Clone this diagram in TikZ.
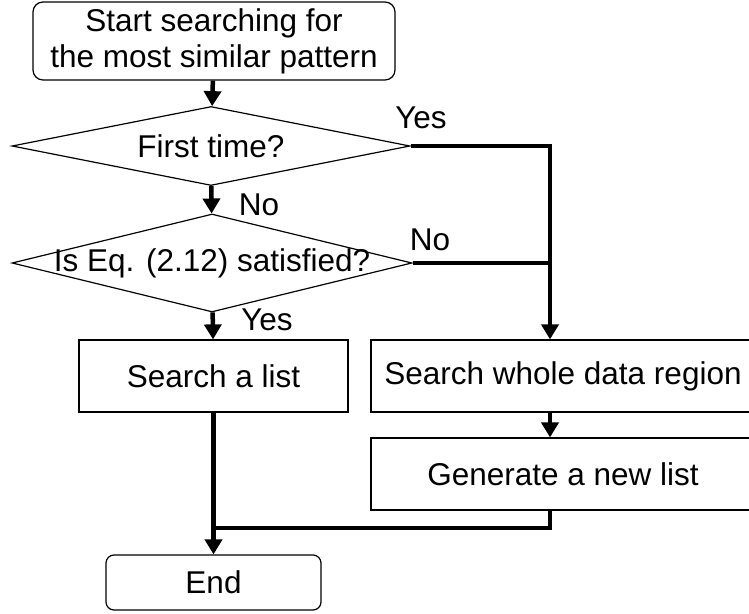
\documentclass[tikz,border=0pt]{standalone}
\usepackage{fontspec}
\setmainfont{Liberation Sans}
\usetikzlibrary{arrows.meta,positioning,shapes.geometric}

\begin{document}
\begin{tikzpicture}[x=1pt,y=-1pt,>={Triangle[length=15pt,width=17pt]},
    font=\fontsize{31.5}{36}\selectfont]
    \useasboundingbox (0,0) rectangle (749,613);
    \tikzset{terminal/.style={draw,line width=1.2pt,rounded corners=10pt,align=center,inner sep=0pt}}
    \tikzset{decision/.style={diamond,draw,line width=1.2pt,inner sep=0pt}}
    \tikzset{process/.style={draw,line width=1.2pt,inner sep=0pt}}
    \tikzset{flow/.style={line width=4.5pt}}

    \node[terminal,minimum width=362pt,minimum height=78pt] (start) at (214,41)  {Start searching for\\the most similar pattern};
    \node[decision,minimum width=398pt,minimum height=79pt] (first) at (211,146) {\makebox[0pt]{\raisebox{-3pt}{First time?}}};
    \node[decision,minimum width=400pt,minimum height=98pt] (eq)    at (212,263) {\makebox[0pt]{Is Eq. (2.12) satisfied?}};
    \node[process,minimum width=269pt,minimum height=72pt]  (list)  at (213.5,376) {Search a list};
    \node[process,minimum width=384pt,minimum height=72pt]  (whole) at (563,376) {Search whole data region};
    \node[process,minimum width=384pt,minimum height=72pt]  (gen)   at (563,474) {Generate a new list};
    \node[terminal,rounded corners=8pt,minimum width=215pt,minimum height=55pt] (end) at (213.5,582.5) {End};

    \coordinate (j1) at (550,146);
    \coordinate (j2) at (550,528);

    \node (yes1) at (421,118) {Yes};
    \node (no1)  at (259,205) {No};
    \node (no2)  at (430,240) {No};
    \node (yes2) at (267,320) {Yes};

    \draw[flow,->] (start) -- (first);
    \draw[flow,->] (first) -- (eq);
    \draw[flow,->] (eq) -- (list);
    \draw[flow,->] (first.east) -- (j1) -- (j1 |- whole.north);
    \draw[flow] (eq.east) -- (j1 |- eq.east);
    \draw[flow,->] (j1 |- whole.south) -- (j1 |- gen.north);
    \draw[flow] (j1 |- gen.south) -- (j2) -- (list.south |- j2);
    \draw[flow,->] (list) -- (end);
\end{tikzpicture}
\end{document}
